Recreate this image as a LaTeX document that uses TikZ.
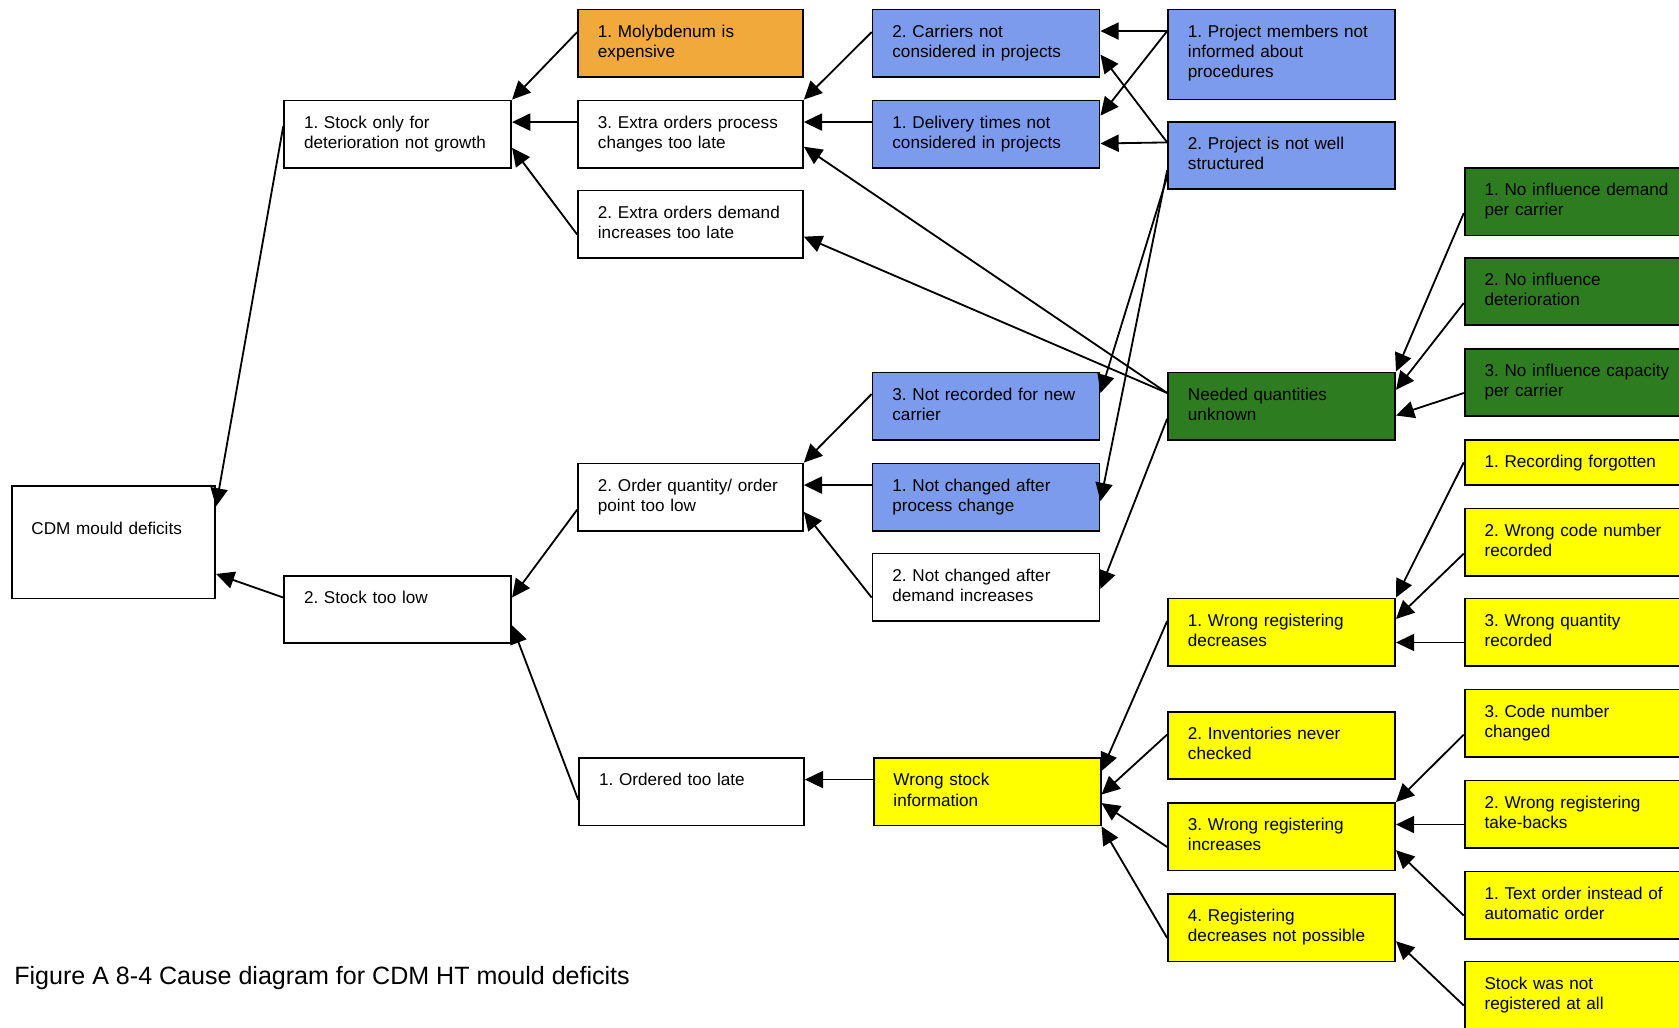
\documentclass[tikz,border=0pt]{standalone}
\usepackage{fontspec}
\setmainfont{Liberation Sans}
\usetikzlibrary{arrows.meta,calc}
\frenchspacing

\definecolor{fillorange}{RGB}{242,169,59}
\definecolor{fillblue}{RGB}{124,155,236}
\definecolor{fillgreen}{RGB}{46,124,32}
\definecolor{fillyellow}{RGB}{255,255,0}

\tikzset{
  box/.style={draw=black, line width=0.85pt, rectangle, inner sep=0pt, fill=white},
  whitebox/.style={box},
  orangebox/.style={box, fill=fillorange},
  bluebox/.style={box, fill=fillblue},
  greenbox/.style={box, fill=fillgreen},
  yellowbox/.style={box, fill=fillyellow},
  txt/.style={anchor=base west, inner sep=0pt, text width=100pt, align=left,
              font=\fontsize{8pt}{9.35pt}\selectfont},
  arr/.style={draw=black, line width=0.85pt, -{Triangle[length=8.5pt,width=8pt]}},
}

% \cbox{name}{style}{x}{y}{width}{height}{text}: box with its top-left corner at (x,y)
\newcommand\cbox[7]{%
  \node[#2, anchor=north west, minimum width=#5*0.5pt, minimum height=#6*0.5pt] (#1) at (#3,#4) {};
  \node[txt] (#1-t) at ($(#1.north west)+(19,27)$) {#7};
}

\begin{document}
\begin{tikzpicture}[x=0.5pt, y=-0.5pt]
  \path[use as bounding box, fill=white] (0,0) rectangle (1568,960);
  \clip (0,0) rectangle (1568,960);

  % effect
  \node[whitebox, anchor=north west, minimum width=95pt, minimum height=52.5pt] (cdm) at (10,453) {};
  \node[txt] (cdm-t) at ($(cdm.north west)+(19,46)$) {CDM mould deficits};

  % second level
  \cbox{stockonly}{whitebox}{264.5}{93}{212}{63}{1. Stock only for\\deterioration not growth}
  \cbox{stocklow}{whitebox}{264.5}{537}{212}{63}{2. Stock too low}

  % third level
  \cbox{moly}{orangebox}{539}{8}{210}{63}{1. Molybdenum is\\expensive}
  \cbox{extraproc}{whitebox}{539}{93}{210}{63}{3. Extra orders process\\changes too late}
  \cbox{extrademand}{whitebox}{539}{177}{210}{63}{2. Extra orders demand\\increases too late}
  \cbox{orderqty}{whitebox}{539}{432}{210}{63}{2. Order quantity/ order\\point too low}
  \cbox{orderlate}{whitebox}{540}{707}{210}{63}{1. Ordered too late}

  % fourth level
  \cbox{carriers}{bluebox}{814}{8}{212}{63}{2. Carriers not\\considered in projects}
  \cbox{delivery}{bluebox}{814}{93}{212}{63}{1. Delivery times not\\considered in projects}
  \cbox{newcarrier}{bluebox}{814}{347}{212}{63}{3. Not recorded for new\\carrier}
  \cbox{procchange}{bluebox}{814}{432}{212}{63}{1. Not changed after\\process change}
  \cbox{demandinc}{whitebox}{814}{516}{212}{63}{2. Not changed after\\demand increases}
  \cbox{wrongstock}{yellowbox}{815}{707}{212}{63}{Wrong stock\\information}

  % fifth level
  \cbox{members}{bluebox}{1090}{8}{212}{84}{1. Project members not\\informed about\\procedures}
  \cbox{structured}{bluebox}{1090}{113}{212}{63}{2. Project is not well\\structured}
  \cbox{needed}{greenbox}{1090}{347}{212}{63}{Needed quantities\\unknown}
  \cbox{wrd}{yellowbox}{1090}{558}{212}{63}{1. Wrong registering\\decreases}
  \cbox{inv}{yellowbox}{1090}{664}{212}{63}{2. Inventories never\\checked}
  \cbox{wri}{yellowbox}{1090}{749}{212}{63}{3. Wrong registering\\increases}
  \cbox{rdnp}{yellowbox}{1090}{834}{212}{63}{4. Registering\\decreases not possible}

  % sixth level
  \cbox{inflA}{greenbox}{1367}{156}{212}{63}{1. No influence demand\\per carrier}
  \cbox{inflB}{greenbox}{1367}{240}{212}{63}{2. No influence\\deterioration}
  \cbox{inflC}{greenbox}{1367}{325}{212}{63}{3. No influence capacity\\per carrier}
  \cbox{recforg}{yellowbox}{1367}{410}{212}{42}{1. Recording forgotten}
  \cbox{wrongcode}{yellowbox}{1367}{474}{212}{63}{2. Wrong code number\\recorded}
  \cbox{wrongqty}{yellowbox}{1367}{558}{212}{63}{3. Wrong quantity\\recorded}
  \cbox{codechg}{yellowbox}{1367}{643}{212}{63}{3. Code number\\changed}
  \cbox{takeback}{yellowbox}{1367}{728}{212}{63}{2. Wrong registering\\take-backs}
  \cbox{textorder}{yellowbox}{1367}{813}{212}{63}{1. Text order instead of\\automatic order}
  \cbox{notreg}{yellowbox}{1367}{897}{212}{63}{Stock was not\\registered at all}

  % cause -> effect connectors
  \draw[arr] ($(stockonly.north west)+(0,25)$) -- ($(cdm.north east)+(0,20)$);
  \draw[arr] ($(stocklow.north west)+(0,21)$) -- ($(cdm.north east)+(0,83)$);

  \draw[arr] ($(moly.north west)+(0,22)$) -- (stockonly.north east);
  \draw[arr] ($(extraproc.north west)+(0,21)$) -- ($(stockonly.north east)+(0,21)$);
  \draw[arr] ($(extrademand.north west)+(0,42)$) -- ($(stockonly.north east)+(0,45)$);

  \draw[arr] ($(orderqty.north west)+(0,44)$) -- ($(stocklow.north east)+(0,21)$);
  \draw[arr] ($(orderlate.north west)+(0,40)$) -- ($(stocklow.north east)+(0,47)$);

  \draw[arr] ($(carriers.north west)+(0,22)$) -- (extraproc.north east);
  \draw[arr] ($(delivery.north west)+(0,21)$) -- ($(extraproc.north east)+(0,21)$);
  \draw[arr] ($(needed.north west)+(0,20)$) -- ($(extraproc.north east)+(0,44)$);
  \draw[arr] ($(needed.north west)+(0,20)$) -- ($(extrademand.north east)+(0,44)$);

  \draw[arr] ($(members.north west)+(0,21)$) -- ($(carriers.north east)+(0,21)$);
  \draw[arr] ($(members.north west)+(0,21)$) -- ($(delivery.north east)+(0,15)$);
  \draw[arr] ($(structured.north west)+(0,20)$) -- ($(carriers.north east)+(0,43)$);
  \draw[arr] ($(structured.north west)+(0,20)$) -- ($(delivery.north east)+(0,41)$);
  \draw[arr] ($(structured.north west)+(0,52)$) -- ($(newcarrier.north east)+(0,20)$);
  \draw[arr] ($(structured.north west)+(0,46)$) -- ($(procchange.north east)+(0,36)$);

  \draw[arr] ($(newcarrier.north west)+(0,21)$) -- (orderqty.north east);
  \draw[arr] ($(procchange.north west)+(0,21)$) -- ($(orderqty.north east)+(0,21)$);
  \draw[arr] ($(demandinc.north west)+(0,42)$) -- ($(orderqty.north east)+(0,46)$);
  \draw[arr] ($(needed.north west)+(0,44)$) -- ($(demandinc.north east)+(0,34)$);

  \draw[arr] ($(inflA.north west)+(0,43)$) -- (needed.north east);
  \draw[arr] ($(inflB.north west)+(0,43)$) -- ($(needed.north east)+(0,17)$);
  \draw[arr] ($(inflC.north west)+(0,42)$) -- ($(needed.north east)+(0,41)$);

  \draw[arr] ($(wrongstock.north west)+(0,21)$) -- ($(orderlate.north east)+(0,21)$);

  \draw[arr] ($(wrd.north west)+(0,22)$) -- ($(wrongstock.north east)+(0,13)$);
  \draw[arr] ($(inv.north west)+(0,22)$) -- ($(wrongstock.north east)+(0,35)$);
  \draw[arr] ($(wri.north west)+(0,42)$) -- ($(wrongstock.north east)+(0,43)$);
  \draw[arr] ($(rdnp.north west)+(0,42)$) -- (wrongstock.south east);

  \draw[arr] (recforg.west) -- (wrd.north east);
  \draw[arr] ($(wrongcode.north west)+(0,43)$) -- ($(wrd.north east)+(0,20)$);
  \draw[arr] ($(wrongqty.north west)+(0,42)$) -- ($(wrd.north east)+(0,42)$);
  \draw[arr] ($(codechg.north west)+(0,43)$) -- (wri.north east);
  \draw[arr] ($(takeback.north west)+(0,42)$) -- ($(wri.north east)+(0,21)$);
  \draw[arr] ($(textorder.north west)+(0,42)$) -- ($(wri.north east)+(0,45)$);
  \draw[arr] ($(notreg.north west)+(0,42)$) -- ($(rdnp.north east)+(0,45)$);

  % caption
  \node[anchor=base west, inner sep=0pt, font=\fontsize{11.7pt}{14pt}\selectfont] (caption) at (13,919)
    {Figure A 8-4 Cause diagram for CDM HT mould deficits};
\end{tikzpicture}
\end{document}
